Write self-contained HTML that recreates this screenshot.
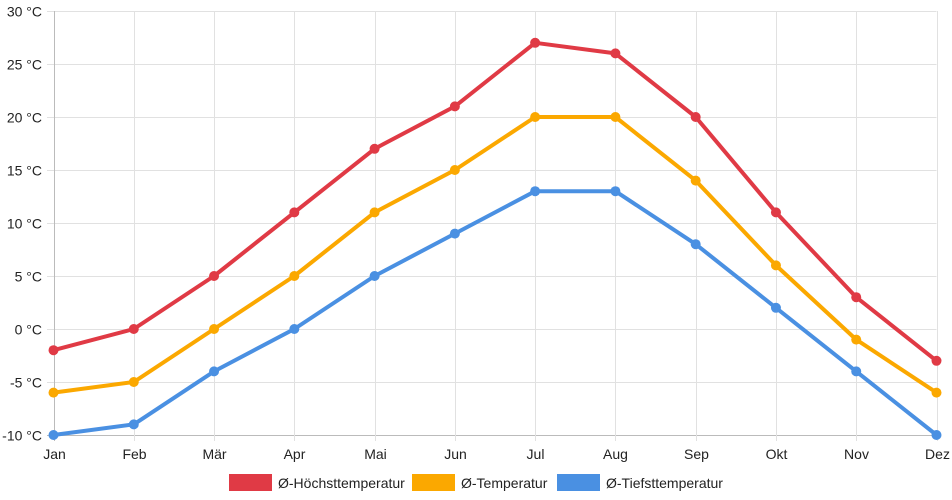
<!DOCTYPE html>
<html><head><meta charset="utf-8"><style>
html,body{margin:0;padding:0;background:#fff;}
svg{display:block;font-family:"Liberation Sans",Arial,sans-serif;}
</style></head><body>
<svg id="chart" width="952" height="500" viewBox="0 0 952 500" xmlns="http://www.w3.org/2000/svg">
<g id="grid"></g>
<g id="yaxis"></g>
<g id="xaxis"></g>
<g id="series"></g>
<g id="legend"></g>
</svg>
<script>
const categories = ["Jan","Feb","Mär","Apr","Mai","Jun","Jul","Aug","Sep","Okt","Nov","Dez"];
const highTemps = [-2,0,5,11,17,21,27,26,20,11,3,-3];
const avgTemps = [-6,-5,0,5,11,15,20,20,14,6,-1,-6];
const lowTemps = [-10,-9,-4,0,5,9,13,13,8,2,-4,-10];
const yTicks = [30,25,20,15,10,5,0,-5,-10];
const yTickLabels = ["30 °C","25 °C","20 °C","15 °C","10 °C","5 °C","0 °C","-5 °C","-10 °C"];
const seriesNames = ["Ø-Höchsttemperatur","Ø-Temperatur","Ø-Tiefsttemperatur"];

const NS="http://www.w3.org/2000/svg";
const x0=53.5,x1=936.5,yTop=11,yBot=435,yMin=-10,yMax=30;
const xScale=i=>x0+i*(x1-x0)/(categories.length-1);
const yScale=v=>yBot-(v-yMin)*(yBot-yTop)/(yMax-yMin);
function mk(tag,attrs,parent){const e=document.createElementNS(NS,tag);for(const k in attrs)e.setAttribute(k,attrs[k]);parent.appendChild(e);return e;}
const grid=document.getElementById('grid'),ya=document.getElementById('yaxis'),xa=document.getElementById('xaxis'),ser=document.getElementById('series'),leg=document.getElementById('legend');

yTicks.forEach((t,i)=>{
  const y=Math.round(yScale(t))+0.5;
  const l=mk('line',{x1:47,x2:x1,y1:y,y2:y,stroke:t===-10?'#bbb':'#e1e1e1','stroke-width':1},grid);
  
  
  const tx=mk('text',{x:42,y:y+5,'text-anchor':'end','font-size':14,fill:'#222'},ya);
  tx.textContent=yTickLabels[i];
  
  
});
categories.forEach((c,i)=>{
  const x=Math.round(xScale(i))+0.5;
  const l=mk('line',{x1:x,x2:x,y1:yTop,y2:yBot+6,stroke:i===0?'#bbb':'#e1e1e1','stroke-width':1},grid);
  
  
  const tx=mk('text',{x:x,y:459,'text-anchor':'middle','font-size':14,fill:'#222'},xa);
  tx.textContent=c;
  
  
});
const allSeries=[highTemps,avgTemps,lowTemps];
const colors=['#e03a45','#fba800','#4a90e2'];
const sNames=['high-temp','avg-temp','low-temp'];
allSeries.forEach((arr,s)=>{
  const g=mk('g',{},ser);
  
  
  const pts=arr.map((v,i)=>xScale(i)+','+yScale(v)).join(' ');
  const pl=mk('polyline',{points:pts,fill:'none',stroke:colors[s],'stroke-width':4,'stroke-linejoin':'round'},g);
  
  
  arr.forEach((v,i)=>{
    const c=mk('circle',{cx:xScale(i),cy:yScale(v),r:5,fill:colors[s]},g);
    
    
  });
});
const legX=[229,412,557];
seriesNames.forEach((n,s)=>{
  const g=mk('g',{},leg);
  
  
  mk('rect',{x:legX[s],y:474,width:43,height:17,fill:colors[s]},g);
  const t=mk('text',{x:legX[s]+49,y:488,'font-size':14,fill:'#222'},g);
  t.textContent=n;
});
</script>
</body></html>
